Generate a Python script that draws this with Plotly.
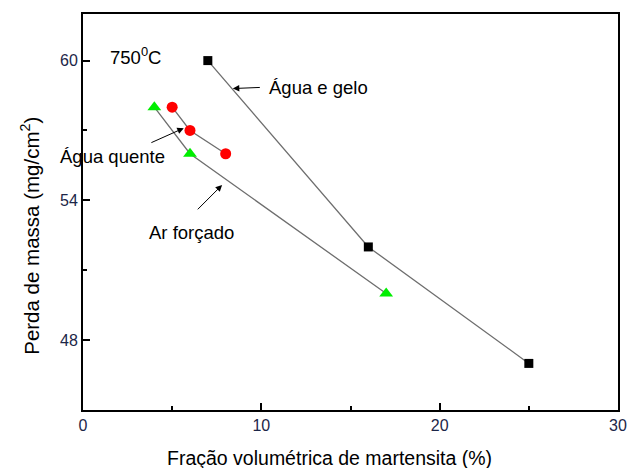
import plotly.graph_objects as go

# Data
agua_gelo_x = [7, 16, 25]
agua_gelo_y = [60, 52, 47]
agua_quente_x = [5, 6, 8]
agua_quente_y = [58, 57, 56]
ar_forcado_x = [4, 6, 17]
ar_forcado_y = [58, 56, 50]

x_ticks = [0, 10, 20, 30]
y_ticks = [48, 54, 60]

FONT = "Liberation Sans, Arial, sans-serif"
LINE = "#6e6e6e"
LABEL_SIZE = 18.5

fig = go.Figure()
fig.add_trace(go.Scatter(x=agua_gelo_x, y=agua_gelo_y, mode="lines+markers",
                         line=dict(color=LINE, width=1.3),
                         marker=dict(symbol="square", size=9, color="black")))
fig.add_trace(go.Scatter(x=agua_quente_x, y=agua_quente_y, mode="lines+markers",
                         line=dict(color=LINE, width=1.3),
                         marker=dict(symbol="circle", size=11, color="#ff0000")))
fig.add_trace(go.Scatter(x=ar_forcado_x, y=ar_forcado_y, mode="lines+markers",
                         line=dict(color=LINE, width=1.3),
                         marker=dict(symbol="triangle-up", size=12, color="#00ee00")))

axis_common = dict(showgrid=False, zeroline=False, showline=True, linecolor="black",
                   linewidth=2, mirror=True, ticks="inside", ticklen=7, tickwidth=1.5,
                   tickcolor="black", tickfont=dict(family=FONT, size=16, color="#1c2648"),
                   minor=dict(ticks="inside", ticklen=4, tickwidth=1.5, tickcolor="black"))

fig.update_xaxes(range=[0, 30], tickvals=x_ticks, **axis_common)
fig.update_yaxes(range=[45, 62], tickvals=y_ticks, **axis_common)
fig.update_xaxes(minor_dtick=5)
fig.update_yaxes(minor_dtick=3)

annos = []
# axis titles
annos.append(dict(text="Fração volumétrica de martensita (%)", xref="paper", yref="paper",
                  x=0.46, y=-0.121, xanchor="center", yanchor="middle", showarrow=False,
                  font=dict(family=FONT, size=19.5, color="black")))
annos.append(dict(text="Perda de massa (mg/cm<sup>2</sup>)", xref="paper", yref="paper",
                  x=-0.099, y=0.44, xanchor="center", yanchor="middle", showarrow=False,
                  textangle=-90, font=dict(family=FONT, size=20.5, color="black")))
# labels
annos.append(dict(text="750<sup>0</sup>C", x=1.4, y=60.2, xanchor="left", yanchor="middle",
                  showarrow=False, font=dict(family=FONT, size=LABEL_SIZE, color="black")))
annos.append(dict(text="Água e gelo", x=10.3, y=58.85, xanchor="left", yanchor="middle",
                  showarrow=False, font=dict(family=FONT, size=LABEL_SIZE, color="black")))
annos.append(dict(text="Água quente", xref="paper", yref="paper", x=0.055, y=0.639,
                  xanchor="center", yanchor="middle", showarrow=False,
                  font=dict(family=FONT, size=LABEL_SIZE, color="black")))
annos.append(dict(text="Ar forçado", x=3.59, y=52.62, xanchor="left", yanchor="middle",
                  showarrow=False, font=dict(family=FONT, size=LABEL_SIZE, color="black")))
# arrows
arrow_style = dict(text="", showarrow=True, arrowhead=2, arrowsize=1.3, arrowwidth=1,
                   arrowcolor="black", axref="x", ayref="y", standoff=0, startstandoff=0)
annos.append(dict(x=8.4, y=58.8, ax=10.0, ay=58.85, **arrow_style))
annos.append(dict(x=5.65, y=57.1, ax=3.75, ay=56.45, **arrow_style))
annos.append(dict(x=7.8, y=54.66, ax=6.35, ay=53.55, **arrow_style))

fig.update_layout(width=630, height=468,
                  margin=dict(l=83, r=12, t=14, b=58, autoexpand=False),
                  paper_bgcolor="white", plot_bgcolor="white", showlegend=False,
                  annotations=annos)

fig.write_html("out.html", config={"displayModeBar": False},
               post_script="document.body.style.margin='0';document.body.style.overflow='hidden';")
